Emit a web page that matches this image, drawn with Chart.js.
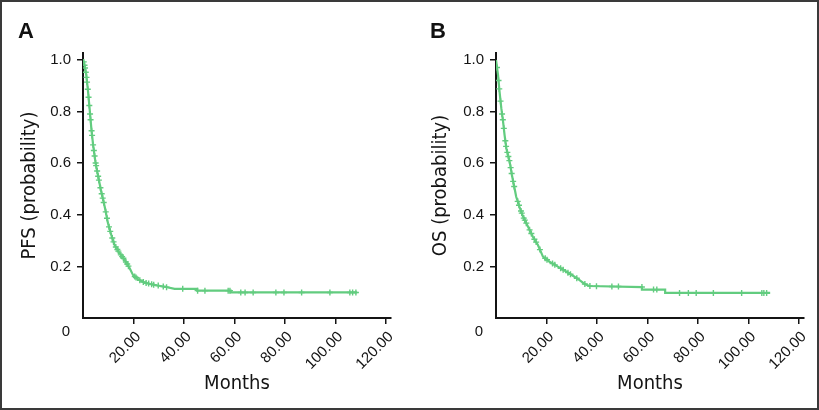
<!DOCTYPE html>
<html><head><meta charset="utf-8">
<script src="https://cdn.jsdelivr.net/npm/chart.js@4"></script>
<style>
html,body{margin:0;padding:0;background:#fff;}
#wrap{position:relative;width:819px;height:410px;overflow:hidden;background:#fff;}
.cv{position:absolute;top:0;height:410px;}
#frame{position:absolute;left:0;top:0;width:819px;height:410px;box-sizing:border-box;border:2px solid #3a3a3a;pointer-events:none;}
.lab{position:absolute;font:bold 22px 'Liberation Sans',Arial,sans-serif;line-height:22px;color:#111;}
</style></head><body>
<div id="wrap">
<div class="cv" style="left:0;width:410px"><canvas id="cA" width="410" height="410"></canvas></div>
<div class="cv" style="left:410px;width:409px"><canvas id="cB" width="409" height="410"></canvas></div>
<div class="lab" style="left:18px;top:20px">A</div>
<div class="lab" style="left:430px;top:20px">B</div>
<div id="frame"></div>
</div>
<script>
// ---- data ----
const monthsA = [0, 0.4, 1.3, 2.0, 2.6, 3.3, 4.0, 4.9, 5.9, 7.2, 8.6, 9.9, 11.2, 12.5, 14.5, 16.5, 18.5, 19.8, 21.8, 24.4, 28.4, 32.4, 36.3, 45.2, 45.2, 58.5, 58.5, 108.6];
const pfsA    = [1.0, 0.99, 0.942, 0.877, 0.813, 0.735, 0.671, 0.606, 0.554, 0.490, 0.431, 0.367, 0.322, 0.283, 0.251, 0.225, 0.193, 0.167, 0.150, 0.137, 0.128, 0.121, 0.113, 0.113, 0.106, 0.106, 0.099, 0.099];
const censorA = [0.3, 0.6, 0.8, 1.1, 1.4, 1.6, 1.9, 2.2, 2.5, 2.8, 3.0, 3.4, 3.6, 4.0, 4.3, 4.6, 5.0, 5.2, 5.6, 6.0, 6.3, 6.9, 7.4, 7.8, 8.2, 9.0, 9.5, 10.3, 10.8, 11.6, 12.1, 13.0, 13.6, 14.0, 15.0, 15.5, 16.0, 17.0, 17.5, 18.0, 20.5, 21.0, 22.5, 23.9, 25.0, 26.0, 27.2, 28.0, 29.8, 31.8, 33.1, 39.5, 45.4, 48.3, 57.5, 58.2, 62.5, 64.2, 67.4, 76.4, 79.6, 86.6, 97.8, 105.7, 106.8, 108.1];

const monthsB = [0, 0.8, 1.4, 2.1, 2.8, 3.4, 4.1, 5.4, 6.3, 7.6, 8.0, 9.3, 10.7, 12.7, 14.6, 16.6, 18.6, 21.2, 24.5, 27.8, 31.1, 33.1, 35.1, 37.0, 57.8, 57.8, 67.0, 67.0, 108.6];
const osB     = [1.0, 0.942, 0.877, 0.813, 0.761, 0.709, 0.658, 0.606, 0.554, 0.490, 0.470, 0.431, 0.393, 0.354, 0.315, 0.283, 0.238, 0.218, 0.199, 0.180, 0.160, 0.147, 0.132, 0.124, 0.120, 0.110, 0.110, 0.097, 0.097];
const censorB = [0.4, 1.0, 1.3, 1.8, 2.4, 2.7, 3.1, 3.7, 4.0, 4.5, 4.9, 5.3, 5.8, 6.2, 6.8, 7.2, 8.6, 9.1, 9.9, 10.2, 11.0, 11.4, 12.0, 13.3, 14.0, 15.2, 15.9, 17.4, 19.5, 20.2, 22.4, 23.3, 25.6, 26.6, 28.5, 29.5, 32.0, 35.2, 37.2, 39.8, 45.9, 48.5, 57.8, 62.4, 63.7, 72.7, 76.2, 79.3, 86.1, 97.3, 105.3, 106.1, 107.2];

const yTickValues = [0.2, 0.4, 0.6, 0.8, 1.0];
const xTickValues = [20, 40, 60, 80, 100, 120];
const xTitle = 'Months';
const yTitleA = 'PFS (probability)';
const yTitleB = 'OS (probability)';
const originText = '0';

const GREEN = '#62cc7f';
const INK = '#141414';
const SANS = "'Liberation Sans', Arial, sans-serif";
const NARROW = "'DejaVu Sans Condensed', 'Liberation Sans Narrow', sans-serif";

function onCurve(xs, ys, t) {
  for (let i = 1; i < xs.length; i++) {
    if (t <= xs[i]) {
      const x0 = xs[i - 1], x1 = xs[i];
      if (x1 === x0) return ys[i];
      const f = (t - x0) / (x1 - x0);
      return ys[i - 1] + f * (ys[i] - ys[i - 1]);
    }
  }
  return ys[ys.length - 1];
}

const originLabel = {
  id: 'originLabel',
  afterDraw(chart) {
    const {ctx, scales: {x, y}} = chart;
    ctx.save();
    ctx.font = '15px ' + SANS;
    ctx.fillStyle = INK;
    ctx.textAlign = 'center';
    ctx.textBaseline = 'middle';
    ctx.fillText(originText, x.getPixelForValue(0) - 17, y.getPixelForValue(0) + 14);
    ctx.restore();
  }
};

function makeChart(id, xs, ys, cens, yTitle, yAxisWidth, rightPad, yTitlePad) {
  new Chart(document.getElementById(id), {
    type: 'line',
    data: {
      datasets: [
        {
          data: xs.map((x, i) => ({x: x, y: ys[i]})),
          borderColor: GREEN, borderWidth: 2.2, pointRadius: 0, tension: 0, fill: false
        },
        {
          data: cens.map(t => ({x: t, y: onCurve(xs, ys, t)})),
          showLine: false, pointStyle: 'cross', pointRadius: 3,
          pointBorderWidth: 1.4, borderColor: GREEN, pointBorderColor: GREEN, backgroundColor: GREEN
        }
      ]
    },
    options: {
      responsive: false, animation: false, events: [],
      layout: {padding: {top: 53, right: rightPad, left: 0, bottom: 0}},
      plugins: {legend: {display: false}, tooltip: {enabled: false}},
      scales: {
        x: {
          type: 'linear', min: 0, max: 122,
          afterBuildTicks: s => { s.ticks = xTickValues.map(v => ({value: v})); },
          afterFit: s => { s.height = 92; },
          border: {display: true, color: INK, width: 2},
          grid: {display: true, drawOnChartArea: false, drawTicks: true, tickLength: 6, color: INK, lineWidth: 1.5},
          ticks: {maxRotation: 45, minRotation: 45, autoSkip: false, color: INK, padding: 4, labelOffset: 5,
                  font: {family: SANS, size: 15}, callback: v => Number(v).toFixed(2)},
          title: {display: true, text: xTitle, color: INK, font: {family: NARROW, size: 20},
                  padding: {top: 0, bottom: 14}}
        },
        y: {
          type: 'linear', min: 0, max: 1.027,
          afterBuildTicks: s => { s.ticks = yTickValues.map(v => ({value: v})); },
          afterFit: s => { s.width = yAxisWidth; },
          border: {display: true, color: INK, width: 2},
          grid: {display: true, drawOnChartArea: false, drawTicks: true, tickLength: 6, color: INK, lineWidth: 1.5},
          ticks: {color: INK, padding: 6, font: {family: SANS, size: 15}, callback: v => Number(v).toFixed(1)},
          title: {display: true, text: yTitle, color: INK, font: {family: NARROW, size: 20},
                  padding: {top: yTitlePad, bottom: 0}}
        }
      }
    },
    plugins: [originLabel]
  });
}

makeChart('cA', monthsA, pfsA, censorA, yTitleA, 83, 19, 18);
makeChart('cB', monthsB, osB, censorB, yTitleB, 86, 15, 19);
</script>
</body></html>
